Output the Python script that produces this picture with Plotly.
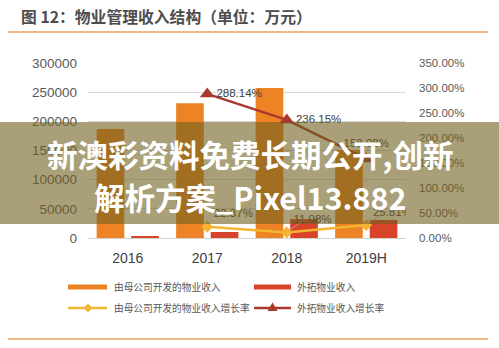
import plotly.graph_objects as go

# ---- data ----
categories = ["2016", "2017", "2018", "2019H"]
parent_income = [187000, 231000, 257000, 151000]
external_income = [2500, 10300, 32500, 31000]
parent_growth = [None, 22.37, 11.08, 25.81]
parent_growth_labels = ["", "22.37%", "11.08%", "25.81%"]
external_growth = [None, 288.14, 236.15, 158.08]
external_growth_labels = ["", "288.14%", "236.15%", "158.08%"]
left_ticks = [0, 50000, 100000, 150000, 200000, 250000, 300000]
right_ticks = [0, 50, 100, 150, 200, 250, 300, 350]
right_tick_text = ["0.00%", "50.00%", "100.00%", "150.00%", "200.00%", "250.00%", "300.00%", "350.00%"]

title_text = "图 12：物业管理收入结构（单位：万元）"
legend_names = ["由母公司开发的物业收入", "外拓物业收入", "由母公司开发的物业收入增长率", "外拓物业收入增长率"]
banner_lines = ["新澳彩资料免费长期公开,创新", "解析方案_Pixel13.882"]

C_ORANGE = "#EE8325"
C_RED = "#D8432A"
C_YEL = "#F4B532"
C_DRED = "#A8392C"
GRAY = "#595959"

W, H = 499, 348
L, T, PW, PH = 88, 63, 318, 175

def X(px):
    return (px - L) / PW

def Y(py):
    return (T + PH - py) / PH

fig = go.Figure()
fig.add_trace(go.Bar(x=categories, y=parent_income, name=legend_names[0],
                     marker=dict(color=C_ORANGE, line=dict(width=0))))
fig.add_trace(go.Bar(x=categories, y=external_income, name=legend_names[1],
                     marker=dict(color=C_RED, line=dict(width=0))))
fig.add_trace(go.Scatter(x=categories, y=parent_growth, name=legend_names[2], yaxis="y2",
                         mode="lines+markers+text", text=[t + "  " if t else t for t in parent_growth_labels],
                         textposition="top right",
                         textfont=dict(size=11.5, color="#404040", family="Liberation Sans"),
                         line=dict(color=C_YEL, width=2.5),
                         marker=dict(symbol="diamond", size=9, color=C_YEL)))
fig.add_trace(go.Scatter(x=categories, y=external_growth, name=legend_names[3], yaxis="y2",
                         mode="lines+markers+text", text=external_growth_labels,
                         textposition=["middle right", "middle right", "middle right", "top center"],
                         textfont=dict(size=11.5, color="#404040", family="Liberation Sans"),
                         line=dict(color=C_DRED, width=2.5),
                         marker=dict(symbol="triangle-up", size=13, color=C_DRED)))

shapes = []
shapes.append(dict(type="line", xref="paper", yref="paper", x0=X(8), x1=X(488), y0=Y(32), y1=Y(32),
                   line=dict(color="#E9A25E", width=1.5), layer="above"))
shapes.append(dict(type="line", xref="paper", yref="paper", x0=X(8), x1=X(488), y0=Y(339), y1=Y(339),
                   line=dict(color="#E9A25E", width=1.5), layer="above"))
# leader lines for growth labels (anchored on category index)
for i in (2, 3):
    shapes.append(dict(type="line", xref="x", yref="y2", xsizemode="pixel", ysizemode="pixel",
                       xanchor=i, yanchor=parent_growth[i], x0=2, x1=20, y0=2, y1=14,
                       line=dict(color="#C9A38E", width=0.8), layer="above"))
# legend swatches
shapes.append(dict(type="rect", xref="paper", yref="paper", x0=X(68), x1=X(107), y0=Y(289.5), y1=Y(284.5),
                   fillcolor=C_ORANGE, line=dict(width=0), layer="above"))
shapes.append(dict(type="rect", xref="paper", yref="paper", x0=X(254), x1=X(291), y0=Y(289.5), y1=Y(284.5),
                   fillcolor=C_RED, line=dict(width=0), layer="above"))
shapes.append(dict(type="line", xref="paper", yref="paper", x0=X(68), x1=X(107), y0=Y(308), y1=Y(308),
                   line=dict(color=C_YEL, width=2.5), layer="above"))
shapes.append(dict(type="path", xref="paper", yref="paper",
                   path=f"M {X(88)},{Y(303.5)} L {X(92.5)},{Y(308)} L {X(88)},{Y(312.5)} L {X(83.5)},{Y(308)} Z",
                   fillcolor=C_YEL, line=dict(width=0), layer="above"))
shapes.append(dict(type="line", xref="paper", yref="paper", x0=X(254), x1=X(291), y0=Y(308), y1=Y(308),
                   line=dict(color=C_DRED, width=2.5), layer="above"))
shapes.append(dict(type="path", xref="paper", yref="paper",
                   path=f"M {X(272.5)},{Y(302.5)} L {X(277.5)},{Y(311)} L {X(267.5)},{Y(311)} Z",
                   fillcolor=C_DRED, line=dict(width=0), layer="above"))
# overlay banner
shapes.append(dict(type="rect", xref="paper", yref="paper", x0=X(0), x1=X(499), y0=Y(224), y1=Y(122),
                   fillcolor="rgba(112,96,32,0.60)", line=dict(width=0), layer="above"))

annotations = []
annotations.append(dict(text="<b>" + title_text + "</b>", xref="paper", yref="paper", x=X(19), y=Y(17),
                        xanchor="left", yanchor="middle", showarrow=False,
                        font=dict(size=15.8, color="#4d4d4d", family="Noto Sans CJK SC")))
leg_pos = [(112, 287), (295, 287), (112, 308), (295, 308)]
for name, (lx, ly) in zip(legend_names, leg_pos):
    annotations.append(dict(text=name, xref="paper", yref="paper", x=X(lx), y=Y(ly),
                            xanchor="left", yanchor="middle", showarrow=False,
                            font=dict(size=9.7, color=GRAY, family="Noto Sans CJK SC")))
for line_text, by in zip(banner_lines, [154, 197]):
    annotations.append(dict(text="<b>" + line_text + "</b>", xref="paper", yref="paper", x=X(250), y=Y(by),
                            xanchor="center", yanchor="middle", showarrow=False,
                            font=dict(size=30.5, color="white", family="Noto Sans CJK SC")))

fig.update_layout(
    width=W, height=H, autosize=False,
    margin=dict(l=L, r=W - L - PW, t=T, b=H - T - PH, pad=0),
    paper_bgcolor="white", plot_bgcolor="white",
    barmode="group", bargap=0.13, bargroupgap=0.2,
    showlegend=False,
    xaxis=dict(type="category", categoryorder="array", categoryarray=categories,
               showline=True, linecolor="#D0D0D0", linewidth=1,
               ticks="", ticklabelstandoff=7,
               tickfont=dict(size=14, color="#404040", family="Liberation Sans")),
    yaxis=dict(range=[0, 300000], tickvals=left_ticks, tickformat="d",
               showgrid=True, gridcolor="#D9D9D9", gridwidth=1, zeroline=False,
               ticks="", ticklabelstandoff=10,
               tickfont=dict(size=13.5, color=GRAY, family="Liberation Sans")),
    yaxis2=dict(range=[0, 350], tickvals=right_ticks, ticktext=right_tick_text,
                overlaying="y", side="right", showgrid=False, zeroline=False,
                ticks="", ticklabelstandoff=12,
                tickfont=dict(size=11.5, color=GRAY, family="Liberation Sans")),
    shapes=shapes,
    annotations=annotations,
)

fig.write_html("out.html")
